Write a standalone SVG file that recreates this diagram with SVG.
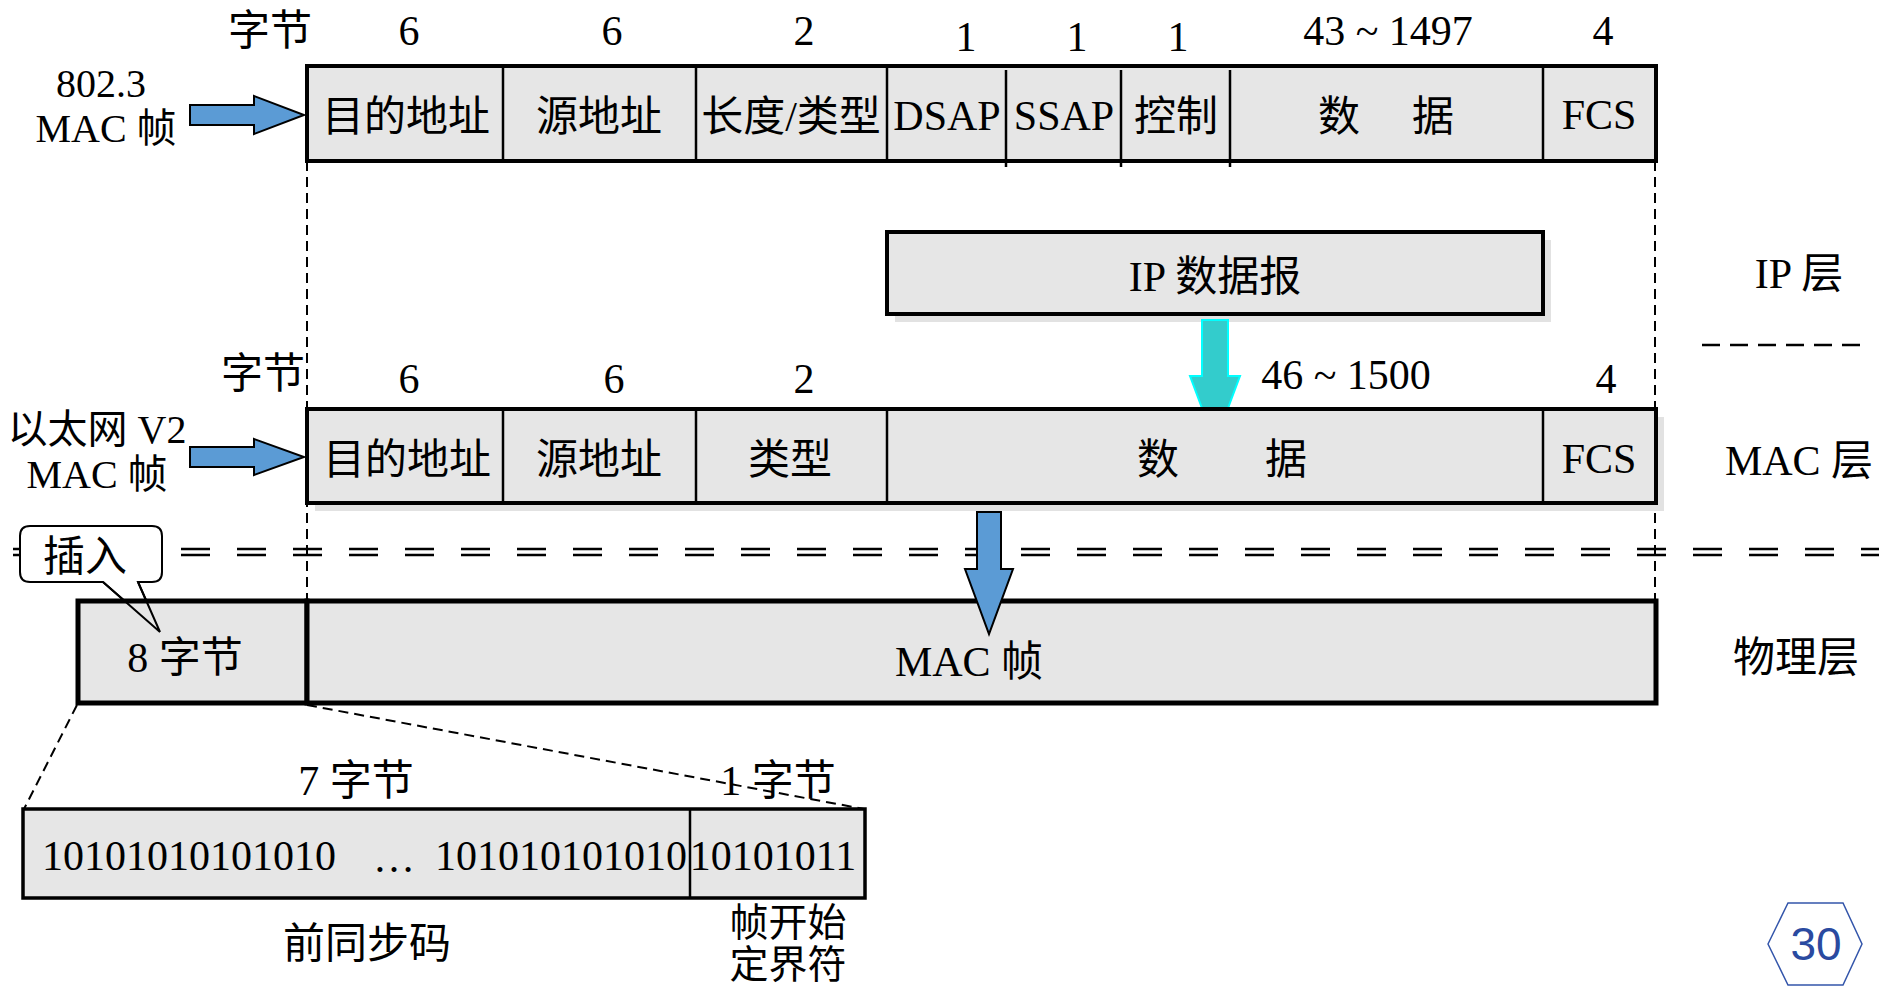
<svg xmlns="http://www.w3.org/2000/svg" width="1879" height="986" viewBox="0 0 1879 986">
<defs>
<style>
.cell{fill:#e6e6e6;stroke:#000;stroke-width:4}
.thick{fill:#e6e6e6;stroke:#000;stroke-width:5}
.div{stroke:#000;stroke-width:2.5;fill:none}
.shadow{fill:#e2e2e2}
.t{font-family:"Liberation Serif","Noto Sans CJK SC",serif;font-size:42px;fill:#000;text-anchor:middle}
.s{font-size:40px}
.vd{stroke:#000;stroke-width:2;stroke-dasharray:10 6;fill:none}
.dd{stroke:#000;stroke-width:2.5;stroke-dasharray:29 27;fill:none}
.barrow{fill:#5b9bd5;stroke:#000;stroke-width:2;stroke-linejoin:miter}
.carrow{fill:#33cccc;stroke:#00ffff;stroke-width:2}
</style>
</defs>
<rect width="1879" height="986" fill="#fff"/>

<g id="connectors">
  <line class="vd" x1="307" y1="161" x2="307" y2="601"/>
  <line class="vd" x1="1655" y1="161" x2="1655" y2="601"/>
  <line class="dd" x1="13" y1="549" x2="1879" y2="549"/>
  <line class="dd" x1="13" y1="555" x2="1879" y2="555"/>
  <line class="vd" x1="77" y1="705" x2="24" y2="809"/>
  <line class="vd" x1="307" y1="705" x2="864" y2="809"/>
  <line x1="1702" y1="345" x2="1870" y2="345" stroke="#000" stroke-width="2.5" stroke-dasharray="18 10"/>
</g>

<g id="frame-8023">
  <rect class="cell" x="307" y="66" width="1349" height="95"/>
  <line class="div" x1="503" y1="66" x2="503" y2="161"/>
  <line class="div" x1="696" y1="66" x2="696" y2="161"/>
  <line class="div" x1="887" y1="66" x2="887" y2="161"/>
  <line class="div" x1="1006" y1="70" x2="1006" y2="167"/>
  <line class="div" x1="1121" y1="70" x2="1121" y2="167"/>
  <line class="div" x1="1230" y1="70" x2="1230" y2="167"/>
  <line class="div" x1="1543" y1="66" x2="1543" y2="161"/>
  <text class="t" x="406" y="131">目的地址</text>
  <text class="t" x="599" y="131">源地址</text>
  <text class="t" x="791" y="131">长度/类型</text>
  <text class="t" x="947" y="130">DSAP</text>
  <text class="t" x="1064" y="130">SSAP</text>
  <text class="t" x="1176" y="131">控制</text>
  <text class="t" y="131"><tspan x="1339">数</tspan><tspan x="1433">据</tspan></text>
  <text class="t" x="1599" y="129">FCS</text>
</g>

<g id="labels-8023">
  <text class="t" x="270" y="45">字节</text>
  <text class="t" x="409" y="45">6</text>
  <text class="t" x="612" y="45">6</text>
  <text class="t" x="804" y="45">2</text>
  <text class="t" x="966" y="51">1</text>
  <text class="t" x="1077" y="51">1</text>
  <text class="t" x="1178" y="51">1</text>
  <text class="t" x="1388" y="45">43 ~ 1497</text>
  <text class="t" x="1603" y="45">4</text>
  <text class="t s"><tspan x="101" y="97">802.3</tspan><tspan x="106" y="142">MAC 帧</tspan></text>
</g>

<g id="arrow-8023">
  <path class="barrow" d="M190,105 H254 V96 L304,115 L254,134 V125 H190 Z"/>
</g>

<g id="ip-datagram">
  <rect class="shadow" x="895" y="240" width="656" height="82"/>
  <rect class="cell" x="887" y="232" width="656" height="82"/>
  <text class="t" x="1215" y="291">IP 数据报</text>
</g>

<g id="ip-arrow">
  <path class="carrow" d="M1202,320 H1228 V376 H1240 L1215,443 L1190,376 H1202 Z"/>
</g>

<g id="labels-v2">
  <text class="t" x="263" y="388">字节</text>
  <text class="t" x="409" y="393">6</text>
  <text class="t" x="614" y="393">6</text>
  <text class="t" x="804" y="393">2</text>
  <text class="t" x="1346" y="389">46 ~ 1500</text>
  <text class="t" x="1606" y="393">4</text>
  <text class="t s"><tspan x="97" y="443">以太网 V2</tspan><tspan x="97" y="488">MAC 帧</tspan></text>
</g>

<g id="frame-v2">
  <rect class="shadow" x="315" y="417" width="1349" height="94"/>
  <rect class="cell" x="307" y="409" width="1349" height="94"/>
  <line class="div" x1="503" y1="409" x2="503" y2="503"/>
  <line class="div" x1="696" y1="409" x2="696" y2="503"/>
  <line class="div" x1="887" y1="409" x2="887" y2="503"/>
  <line class="div" x1="1543" y1="409" x2="1543" y2="503"/>
  <text class="t" x="407" y="474">目的地址</text>
  <text class="t" x="599" y="474">源地址</text>
  <text class="t" x="790" y="474">类型</text>
  <text class="t" y="474"><tspan x="1158">数</tspan><tspan x="1286">据</tspan></text>
  <text class="t" x="1599" y="473">FCS</text>
</g>

<g id="arrow-v2">
  <path class="barrow" d="M190,447 H254 V439 L304,457 L254,475 V467 H190 Z"/>
</g>

<g id="layers">
  <text class="t" x="1799" y="288">IP 层</text>
  <text class="t" x="1799" y="475">MAC 层</text>
  <text class="t" x="1796" y="672">物理层</text>
</g>

<g id="callout-bg">
  <path d="M30,526 H152 Q162,526 162,536 V572 Q162,582 152,582 H138 L160,632 L103,582 H30 Q20,582 20,572 V536 Q20,526 30,526 Z" fill="#fff" stroke="#000" stroke-width="2"/>
</g>

<g id="physical-frame">
  <rect class="thick" x="78" y="601" width="229" height="102"/>
  <rect class="thick" x="307" y="601" width="1349" height="102"/>
  <text class="t" x="185" y="672">8 字节</text>
  <text class="t" x="969" y="676">MAC 帧</text>
</g>

<g id="callout">
  <path d="M138,582 L160,632 L103,582" fill="none" stroke="#000" stroke-width="2"/>
  <text class="t" x="85" y="571">插入</text>
</g>

<g id="mac-arrow">
  <path class="barrow" d="M977,512 H1001 V569 H1013 L989,634 L965,569 H977 Z"/>
</g>

<g id="preamble">
  <rect x="23" y="809" width="842" height="89" fill="#e6e6e6" stroke="#000" stroke-width="3.5"/>
  <line class="div" x1="690" y1="809" x2="690" y2="898"/>
  <text class="t" x="356" y="795">7 字节</text>
  <text class="t" x="778" y="795">1 字节</text>
  <text class="t" x="189" y="870">10101010101010</text>
  <text class="t" x="394" y="872">…</text>
  <text class="t" x="561" y="870">101010101010</text>
  <text class="t" x="773" y="870">10101011</text>
  <text class="t" x="367" y="958">前同步码</text>
  <text class="t" style="font-size:39px"><tspan x="788" y="936">帧开始</tspan><tspan x="788" y="978">定界符</tspan></text>
</g>

<g id="page-number">
  <polygon points="1768,944 1788,903 1843,903 1862,944 1843,985 1788,985" fill="#fff" stroke="#3355aa" stroke-width="1.5"/>
  <text x="1816" y="960" font-family="Liberation Sans, Arial, sans-serif" font-size="46" fill="#2a4aa0" text-anchor="middle">30</text>
</g>
</svg>
